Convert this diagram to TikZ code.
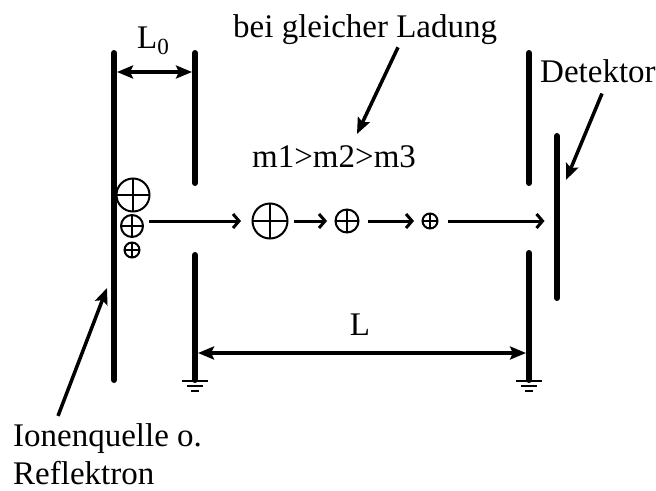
\documentclass[tikz,border=0pt]{standalone}
\usepackage{fontspec}
\setmainfont{Liberation Serif}
\usetikzlibrary{arrows.meta,calc}
\begin{document}
\begin{tikzpicture}[x=1pt,y=-1pt,
  plate/.style={line width=6pt, line cap=round},
  gnd/.style={line width=1.8pt},
  dim/.style={line width=3.3pt, {Stealth[length=16pt,width=13pt,inset=3pt]}-{Stealth[length=16pt,width=13pt,inset=3pt]}},
  ptr/.style={line width=3.5pt, -{Stealth[length=16pt,width=13pt,inset=3pt]}},
  beam/.style={line width=3pt, -{Straight Barb[length=6pt,width=14pt]}},
  lbl/.style={inner sep=0pt, font=\fontsize{33}{39}\selectfont},
  ion/.style={circle, draw, line width=2pt, inner sep=0pt, minimum size=#1,
    path picture={\draw[line width=2pt] (path picture bounding box.north) -- (path picture bounding box.south)
      (path picture bounding box.west) -- (path picture bounding box.east);}},
  gndsym/.pic={\draw[gnd] (-13,1) -- (13,1) (-8,6) -- (8,6) (-4,11) -- (4,11);}
]
\useasboundingbox (0,0) rectangle (656,490);

% plates
\coordinate (p1t) at (114,53);  \coordinate (p1b) at (114,380);
\coordinate (p2t) at (195,53);  \coordinate (p2m) at (195,183);
\coordinate (p2n) at (195,255); \coordinate (p2b) at (195,380);
\coordinate (p3t) at (529,53);  \coordinate (p3m) at (529,183);
\coordinate (p3n) at (529,253); \coordinate (p3b) at (529,380);
\coordinate (dett) at (557,136); \coordinate (detb) at (557,298);
\draw[plate] (p1t) -- (p1b);
\draw[plate] (p2t) -- (p2m);
\draw[plate] (p2n) -- (p2b);
\draw[plate] (p3t) -- (p3m);
\draw[plate] (p3n) -- (p3b);
\draw[plate] (dett) -- (detb);

% grounds
\pic at (p2b) {gndsym};
\pic at (p3b) {gndsym};

% dimension arrows
\coordinate (l0a) at (117,72); \coordinate (l0b) at (192,72);
\draw[dim] (l0a) -- (l0b);
\coordinate (la) at (198,353); \coordinate (lb) at (526,353);
\draw[dim] (la) -- (lb);

% labels
\node[lbl, anchor=base west] (l0) at (137,48) {L\textsubscript{0}};
\node[lbl, anchor=base] (lL) at (360,335) {L};
\node[lbl, anchor=base west] (bei) at (233,37) {bei gleicher Ladung};
\node[lbl, anchor=base west] (mass) at (252,167) {m1>m2>m3};
\node[lbl, anchor=base west] (det) at (540,82) {Detektor};
\node[lbl, anchor=base west] (ion1) at (13,446) {Ionenquelle o.};
\node[lbl, anchor=base west] (ion2) at (13,484) {Reflektron};

% pointer arrows
\coordinate (beiT) at (357,134);
\draw[ptr] ($(bei.south west)+(165,3)$) -- (beiT);
\coordinate (detT) at (566,180);
\draw[ptr] ($(det.south west)+(62,11)$) -- (detT);
\coordinate (ionT) at (107,288);
\draw[ptr] ($(ion1.north west)+(45,-7)$) -- (ionT);

% ions
\node[ion=33pt] (s1) at (133,195) {};
\node[ion=22pt] (s2) at (132,226) {};
\node[ion=15pt] (s3) at (132,250) {};
\node[ion=35pt] (c1) at (270,221) {};
\node[ion=23pt] (c2) at (347,221) {};
\node[ion=15pt] (c3) at (430,221) {};

% beam arrows
\draw[beam, shorten <=5pt, shorten >=10.5pt] (s2.east |- c1.west) -- (c1.west);
\draw[beam, shorten <=5.5pt, shorten >=7.5pt] (c1.east) -- (c2.west);
\draw[beam, shorten <=8.5pt, shorten >=7.5pt] (c2.east) -- (c3.west);
\draw[beam, shorten <=9.5pt, shorten >=12.5pt] (c3.east) -- (c3.east -| dett);
\end{tikzpicture}
\end{document}
